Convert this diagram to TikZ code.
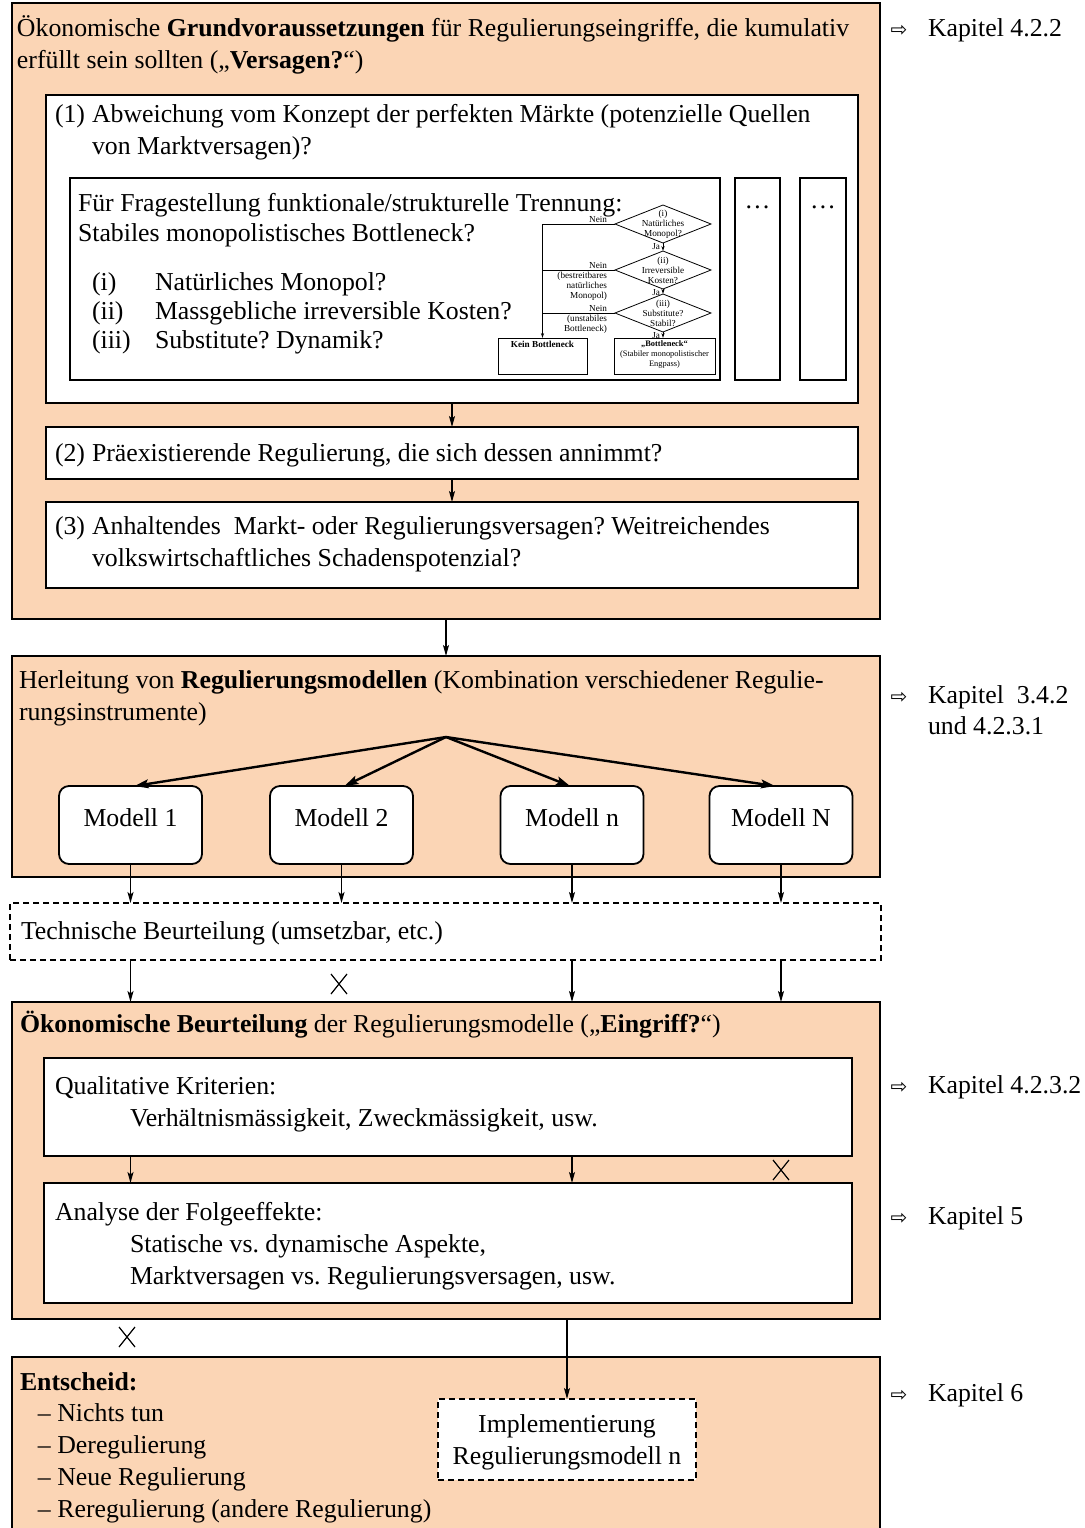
\documentclass[tikz,border=0pt]{standalone}
\usepackage{fontspec}
\setmainfont{Liberation Serif}
\newfontfamily\symfont{DejaVu Sans}
\usepackage{tikz}
\usetikzlibrary{arrows.meta,shapes.geometric,shapes.misc}
\definecolor{peach}{RGB}{251,213,181}
\frenchspacing

\begin{document}
\begin{tikzpicture}[x=0.5pt,y=-0.5pt,
  font=\fontsize{12.9}{16}\selectfont,
  every node/.style={outer sep=0pt},
  bigbox/.style={draw, fill=peach, line width=1.4pt, inner sep=0pt},
  whitebox/.style={draw, fill=white, line width=1.1pt, inner sep=0pt},
  modelbox/.style={draw, fill=white, line width=0.9pt, rounded corners=5pt, minimum width=71.5pt, minimum height=39pt, inner sep=0pt},
  dashbox/.style={draw, fill=white, dash pattern=on 3pt off 2pt, line width=0.75pt, inner sep=0pt},
  txt/.style={anchor=base west, inner sep=0pt},
  arr/.style={-{Stealth[length=5.5pt,width=3pt,inset=1.2pt]}, line width=0.65pt},
  fanarr/.style={-{Stealth[length=7pt,width=4.4pt,inset=1.4pt]}, line width=1.2pt},
  smallarr/.style={-{Stealth[length=2.5pt,width=1.6pt]}, line width=0.4pt},
  nope/.style={cross out, draw, line width=0.6pt, minimum width=8pt, minimum height=10pt, inner sep=0pt},
  tiny/.style={font=\fontsize{4.6}{5}\selectfont, inner sep=0pt},
  diam/.style={diamond, draw, line width=0.4pt, minimum width=48pt, minimum height=19pt, inner sep=0pt},
  kaparr/.style={font=\symfont\fontsize{10}{11}\selectfont, inner sep=0pt},
]
\useasboundingbox (0,0) rectangle (1085,1528);

% Versagen?
\node[bigbox, minimum width=434pt, minimum height=308pt] (boxA) at (446,311) {};
\node[txt] (tA1) at (17,36) {Ökonomische \textbf{Grundvoraussetzungen} für Regulierungseingriffe, die kumulativ};
\node[txt] (tA2) at (17,68) {erfüllt sein sollten („\textbf{Versagen?}“)};

\node[whitebox, minimum width=406pt, minimum height=154pt] (q1) at (452,249) {};
\node[txt] (n1) at (55,122) {(1)};
\node[txt] (t1a) at (92,122) {Abweichung vom Konzept der perfekten Märkte (potenzielle Quellen};
\node[txt] (t1b) at (92,154) {von Marktversagen)?};

\node[draw, fill=white, line width=0.8pt, minimum width=325pt, minimum height=101pt, inner sep=0pt] (flow) at (395,279) {};
\node[txt] (tf1) at (78,211) {Für Fragestellung funktionale/strukturelle Trennung:};
\node[txt] (tf2) at (78,241) {Stabiles monopolistisches Bottleneck?};
\node[txt] (ni) at (92,290) {(i)};
\node[txt] (ti) at (155,290) {Natürliches Monopol?};
\node[txt] (nii) at (92,319) {(ii)};
\node[txt] (tii) at (155,319) {Massgebliche irreversible Kosten?};
\node[txt] (niii) at (92,348) {(iii)};
\node[txt] (tiii) at (155,348) {Substitute? Dynamik?};

% kleiner Entscheidungsbaum
\node[diam] (d1) at (663,224) {};
\node[tiny, align=center] (d1t) at (663,224) {(i)\\Natürliches\\Monopol?};
\node[diam] (d2) at (663,270) {};
\node[tiny, align=center] (d2t) at (663,270) {(ii)\\Irreversible\\Kosten?};
\node[diam] (d3) at (663,313) {};
\node[tiny, align=center] (d3t) at (663,313) {(iii)\\Substitute?\\Stabil?};
\node[draw, fill=white, line width=0.5pt, minimum width=44.5pt, minimum height=18pt, inner sep=0pt] (kein) at (542.5,356) {};
\node[tiny, anchor=north] (keint) at ([yshift=-1.5pt]kein.north) {\textbf{Kein Bottleneck}};
\node[draw, fill=white, line width=0.5pt, minimum width=50.5pt, minimum height=18pt, inner sep=0pt] (bott) at (664.5,356) {};
\node[tiny, anchor=north, align=center, font=\fontsize{4.2}{5}\selectfont] (bottt) at ([yshift=-1.5pt]bott.north) {\textbf{„Bottleneck“}\\(Stabiler monopolistischer\\Engpass)};

\draw[smallarr] (d1.south) -- (d2.north);
\draw[smallarr] (d2.south) -- (d3.north);
\draw[smallarr] (d3.south) -- (d3.south |- bott.north);
\draw[smallarr] (d1.west) -| (kein.north);
\draw[line width=0.4pt] (d2.west) -- (d2.west -| kein.north);
\draw[line width=0.4pt] (d3.west) -- (d3.west -| kein.north);
\node[tiny, anchor=south east] (nein1) at ([xshift=-4pt,yshift=0.6pt]d1.west) {Nein};
\node[tiny, anchor=south east] (nein2) at ([xshift=-4pt,yshift=0.6pt]d2.west) {Nein};
\node[tiny, anchor=north east, align=right] (why2) at ([xshift=-4pt,yshift=-1pt]d2.west) {(bestreitbares\\natürliches\\Monopol)};
\node[tiny, anchor=south east] (nein3) at ([xshift=-4pt,yshift=0.6pt]d3.west) {Nein};
\node[tiny, anchor=north east, align=right] (why3) at ([xshift=-4pt,yshift=-1pt]d3.west) {(unstabiles\\Bottleneck)};
\node[tiny, anchor=north east] (ja1) at ([xshift=-1.5pt]d1.south) {Ja};
\node[tiny, anchor=north east] (ja2) at ([xshift=-1.5pt]d2.south) {Ja};
\node[tiny, anchor=north east] (ja3) at ([xshift=-1.5pt]d3.south) {Ja};

\node[draw, fill=white, line width=0.9pt, minimum width=22.5pt, minimum height=101pt, inner sep=0pt] (more1) at (757.5,279) {};
\node[inner sep=0pt] (dots1) at (757.5,207) {\dots};
\node[draw, fill=white, line width=0.9pt, minimum width=23pt, minimum height=101pt, inner sep=0pt] (more2) at (823,279) {};
\node[inner sep=0pt] (dots2) at (823,207) {\dots};

\node[whitebox, minimum width=406pt, minimum height=26pt] (q2) at (452,453) {};
\node[txt] (n2) at (55,461) {(2)};
\node[txt] (t2) at (92,461) {Präexistierende Regulierung, die sich dessen annimmt?};

\node[whitebox, minimum width=406pt, minimum height=43pt] (q3) at (452,545) {};
\node[txt] (n3) at (55,534) {(3)};
\node[txt] (t3a) at (92,534) {Anhaltendes~ Markt- oder Regulierungsversagen? Weitreichendes};
\node[txt] (t3b) at (92,566) {volkswirtschaftliches Schadenspotenzial?};

\draw[arr] (q1.south) -- (q2.north);
\draw[arr] (q2.south) -- (q3.north);

% Modelle
\node[bigbox, minimum width=434pt, minimum height=110.5pt] (boxB) at (446,766.5) {};
\draw[arr] (boxA.south) -- (boxB.north);
\node[txt] (tB1) at (19,688) {Herleitung von \textbf{Regulierungsmodellen} (Kombination verschiedener Regulie-};
\node[txt] (tB2) at (19,720) {rungsinstrumente)};

\node[modelbox] (m1) at (130.5,825) {};
\node[modelbox] (m2) at (341.5,825) {};
\node[modelbox] (mn) at (572,825) {};
\node[modelbox] (mN) at (781,825) {};
\node (m1t) at (130.5,818) {Modell 1};
\node (m2t) at (341.5,818) {Modell 2};
\node (mnt) at (572,818) {Modell n};
\node (mNt) at (781,818) {Modell N};

\coordinate (fan) at (446,737);
\draw[fanarr] (fan) -- ([xshift=2pt]m1.north);
\draw[fanarr] (fan) -- ([xshift=1.5pt]m2.north);
\draw[fanarr] (fan) -- ([xshift=-1pt]mn.north);
\draw[fanarr] (fan) -- ([xshift=-3pt]mN.north);

\node[dashbox, minimum width=435.5pt, minimum height=28.5pt] (tech) at (445.5,931.5) {};
\node[txt] (techt) at (21,939) {Technische Beurteilung (umsetzbar, etc.)};

\foreach \m in {m1,m2,mn,mN}
  \draw[arr] (\m.south) -- (\m.south |- tech.north);

% Eingriff?
\node[bigbox, minimum width=434pt, minimum height=158.5pt] (boxC) at (446,1160.5) {};
\foreach \m in {m1,mn,mN}
  \draw[arr] (tech.south -| \m) -- (boxC.north -| \m);
\node[nope] (x1) at (339,984) {};

\node[txt] (tC) at (20,1032) {\textbf{Ökonomische Beurteilung} der Regulierungsmodelle („\textbf{Eingriff?}“)};

\node[whitebox, minimum width=404pt, minimum height=49pt] (qual) at (448,1107) {};
\node[txt] (tq1) at (55,1094) {Qualitative Kriterien:};
\node[txt] (tq2) at (130,1126) {Verhältnismässigkeit, Zweckmässigkeit, usw.};

\node[whitebox, minimum width=404pt, minimum height=60pt] (ana) at (448,1243) {};
\node[txt] (ta1) at (55,1220) {Analyse der Folgeeffekte:};
\node[txt] (ta2) at (130,1252) {Statische vs. dynamische Aspekte,};
\node[txt] (ta3) at (130,1284) {Marktversagen vs. Regulierungsversagen, usw.};

\foreach \m in {m1,mn}
  \draw[arr] (qual.south -| \m) -- (ana.north -| \m);
\node[nope] (x2) at (781,1170) {};

% Entscheid
\node[bigbox, minimum width=434pt, minimum height=101.5pt] (boxD) at (446,1458.5) {};
\node[nope] (x3) at (127,1337) {};
\node[txt] (tD) at (20,1390) {\textbf{Entscheid:}};
\node[txt] (e1) at (38,1421) {– Nichts tun};
\node[txt] (e2) at (38,1453) {– Deregulierung};
\node[txt] (e3) at (38,1485) {– Neue Regulierung};
\node[txt] (e4) at (38,1517) {– Reregulierung (andere Regulierung)};

\node[dashbox, minimum width=129pt, minimum height=40.5pt] (impl) at (567,1439.5) {};
\node[align=center, inner sep=0pt] (implt) at (567,1442) {Implementierung\\Regulierungsmodell n};
\draw[arr] (boxC.south -| impl) -- (impl.north);

% Kapitel
\node[kaparr] (ka1) at (899,31) {⇨};
\node[txt] (k1) at (928,36) {Kapitel 4.2.2};
\node[kaparr] (ka2) at (899,698) {⇨};
\node[txt] (k2) at (928,703) {Kapitel~ 3.4.2};
\node[txt] (k2b) at (928,734) {und 4.2.3.1};
\node[kaparr] (ka3) at (899,1088) {⇨};
\node[txt] (k3) at (928,1093) {Kapitel 4.2.3.2};
\node[kaparr] (ka4) at (899,1219) {⇨};
\node[txt] (k4) at (928,1224) {Kapitel 5};
\node[kaparr] (ka5) at (899,1396) {⇨};
\node[txt] (k5) at (928,1401) {Kapitel 6};
\end{tikzpicture}
\end{document}
